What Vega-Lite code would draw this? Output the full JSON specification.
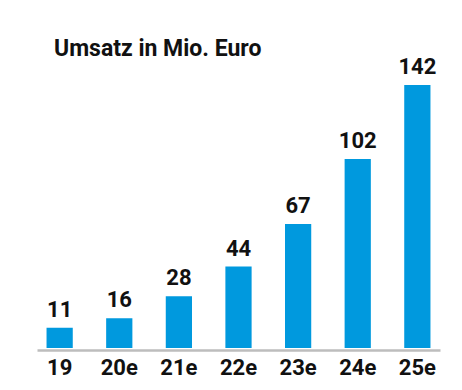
{
  "$schema": "https://vega.github.io/schema/vega-lite/v6.json",
  "width": 403,
  "height": 268,
  "autosize": {"type": "none"},
  "padding": {"left": 37, "top": 80, "right": 22, "bottom": 42},
  "background": "white",
  "title": {"text": "Umsatz in Mio. Euro", "anchor": "start", "frame": "group", "dx": 17, "offset": -5, "fontSize": 23, "font": "Roboto", "fontWeight": "bold", "color": "#111111"},
  "data": {"values": [
    {"jahr": "19", "umsatz": 11},
    {"jahr": "20e", "umsatz": 16},
    {"jahr": "21e", "umsatz": 28},
    {"jahr": "22e", "umsatz": 44},
    {"jahr": "23e", "umsatz": 67},
    {"jahr": "24e", "umsatz": 102},
    {"jahr": "25e", "umsatz": 142}
  ]},
  "encoding": {
    "x": {"field": "jahr", "type": "ordinal", "sort": null, "title": null,
      "scale": {"paddingInner": 0.56, "paddingOuter": 0.16},
      "axis": {"domainColor": "#bdbdbd", "domainWidth": 2.5, "offset": 2, "ticks": false, "labelAngle": 0,
        "labelFont": "Roboto", "labelFontWeight": "bold", "labelFontSize": 22, "labelColor": "#111111",
        "labelPadding": 7, "labelBaseline": "top", "grid": false}},
    "y": {"field": "umsatz", "type": "quantitative", "scale": {"domain": [0, 144.7]}, "axis": null}
  },
  "layer": [
    {"mark": {"type": "bar", "color": "#0099DE"}},
    {"mark": {"type": "text", "dy": -6, "baseline": "bottom", "font": "Roboto", "fontWeight": "bold", "fontSize": 22, "color": "#111111"},
     "encoding": {"text": {"field": "umsatz", "type": "quantitative"}}}
  ],
  "config": {"view": {"stroke": null}}
}
